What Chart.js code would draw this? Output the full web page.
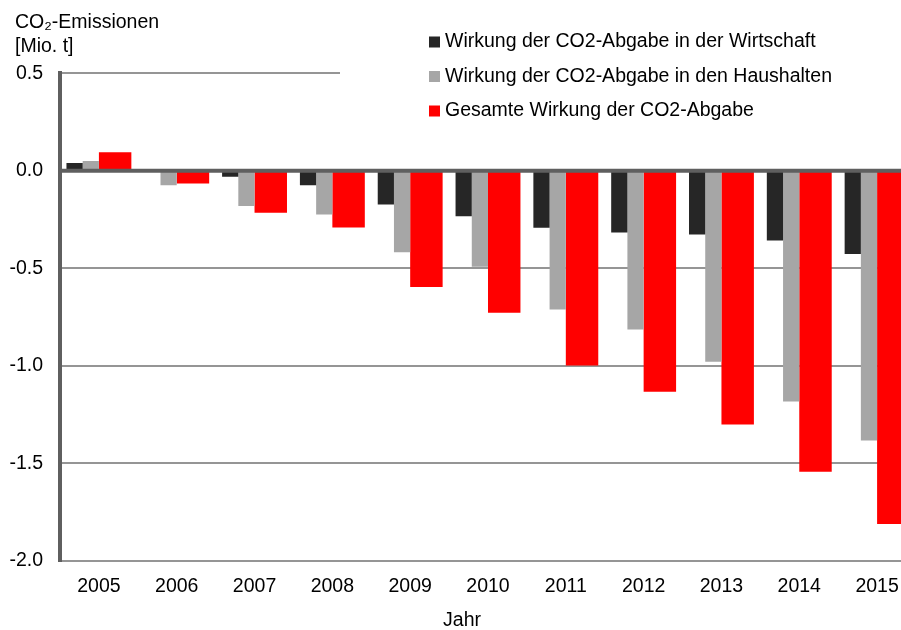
<!DOCTYPE html>
<html>
<head>
<meta charset="utf-8">
<script src="https://cdn.jsdelivr.net/npm/chart.js@4.4.1/dist/chart.umd.min.js"></script>
<style>
    html, body { margin: 0; padding: 0; overflow: hidden; background: #fff; }
</style>
</head>
<body>
<canvas id="emissionsChart" width="916" height="630"></canvas>
<script>
// Jahre und Werte in Mio. t CO2
const years = ['2005', '2006', '2007', '2008', '2009', '2010', '2011', '2012', '2013', '2014', '2015'];
const wirtschaft = [0.04, 0.005, -0.031, -0.074, -0.173, -0.233, -0.292, -0.316, -0.326, -0.357, -0.427];
const haushalte = [0.05, -0.074, -0.18, -0.224, -0.417, -0.492, -0.711, -0.813, -0.979, -1.182, -1.382];
const gesamt = [0.095, -0.065, -0.215, -0.29, -0.595, -0.728, -0.998, -1.133, -1.30, -1.543, -1.81];
const yTicks = [0.5, 0.0, -0.5, -1.0, -1.5, -2.0];

const FONT = '"Liberation Sans", Arial, sans-serif';
Chart.defaults.font.family = FONT;
Chart.defaults.font.size = 19.5;
Chart.defaults.color = '#000';

// dicke Nulllinie über den Balken
const zeroLine = {
    id: 'zeroLine',
    afterLayout(chart) {
        // Achsentitel leicht nach rechts
        if (chart.titleBlock) chart.titleBlock.left += 7;
    },
    afterDatasetsDraw(chart) {
        const { ctx, chartArea, scales } = chart;
        const y = scales.y.getPixelForValue(0);
        ctx.save();
        ctx.strokeStyle = '#5f5f5f';
        ctx.lineWidth = 4;
        ctx.beginPath();
        ctx.moveTo(chartArea.left, y);
        ctx.lineTo(chartArea.right, y);
        ctx.stroke();
        ctx.restore();
    }
};

// Legende oben rechts mit weissem Hintergrund
const legendBox = {
    id: 'legendBox',
    afterDraw(chart) {
        const ctx = chart.ctx;
        ctx.save();
        ctx.fillStyle = '#fff';
        ctx.fillRect(340, 22, chart.width - 340, 108);
        ctx.font = '19.5px ' + FONT;
        ctx.textBaseline = 'middle';
        chart.data.datasets.filter(d => d.label).forEach((d, i) => {
            const y = 42 + i * 34.5;
            ctx.fillStyle = d.backgroundColor;
            ctx.fillRect(429, y - 5.5, 11, 11);
            ctx.fillStyle = '#000';
            ctx.fillText(d.label, 445, y);
        });
        ctx.restore();
    }
};

const barPct = 0.834;

new Chart(document.getElementById('emissionsChart'), {
    type: 'bar',
    data: {
        labels: years,
        datasets: [{
            label: 'Wirkung der CO2-Abgabe in der Wirtschaft',
            data: wirtschaft,
            backgroundColor: '#262626',
            categoryPercentage: barPct,
            barPercentage: 1
        }, {
            label: 'Wirkung der CO2-Abgabe in den Haushalten',
            data: haushalte,
            backgroundColor: '#a6a6a6',
            categoryPercentage: barPct,
            barPercentage: 1
        }, {
            label: 'Gesamte Wirkung der CO2-Abgabe',
            data: gesamt,
            backgroundColor: '#ff0000',
            categoryPercentage: barPct * 2,
            barPercentage: 1
        }, {
            // leerer Platzhalter, damit der rote Balken doppelt breit wird
            label: '',
            data: [],
            categoryPercentage: barPct
        }]
    },
    options: {
        responsive: false,
        animation: false,
        layout: { padding: { left: 8, right: 0, top: 0, bottom: 0 } },
        plugins: {
            legend: { display: false },
            tooltip: { enabled: false },
            title: {
                display: true,
                text: ['CO₂-Emissionen', '[Mio. t]'],
                align: 'start',
                color: '#000',
                font: { size: 19.5, weight: 'normal', lineHeight: 1.25 },
                padding: { top: 10, bottom: 14.5 }
            },
            subtitle: {
                display: true,
                text: 'Jahr',
                position: 'bottom',
                align: 'center',
                color: '#000',
                font: { size: 19.5, weight: 'normal', lineHeight: 1 },
                padding: { top: 0, bottom: 0 }
            }
        },
        scales: {
            x: {
                grid: { display: false, drawTicks: false },
                border: { display: false },
                ticks: { padding: 13.5, maxRotation: 0, autoSkip: false },
                afterFit: (scale) => { scale.height = 49.5; }
            },
            y: {
                min: -2,
                max: 0.5,
                afterBuildTicks: (scale) => {
                    scale.ticks = yTicks.map(v => ({ value: v }));
                },
                afterFit: (scale) => { scale.width = 52; },
                grid: {
                    color: '#959595',
                    lineWidth: 2,
                    drawTicks: false
                },
                border: { display: true, color: '#5f5f5f', width: 4 },
                ticks: {
                    padding: 17,
                    callback: (v) => Number(v).toFixed(1)
                }
            }
        }
    },
    plugins: [zeroLine, legendBox]
});
</script>
</body>
</html>
